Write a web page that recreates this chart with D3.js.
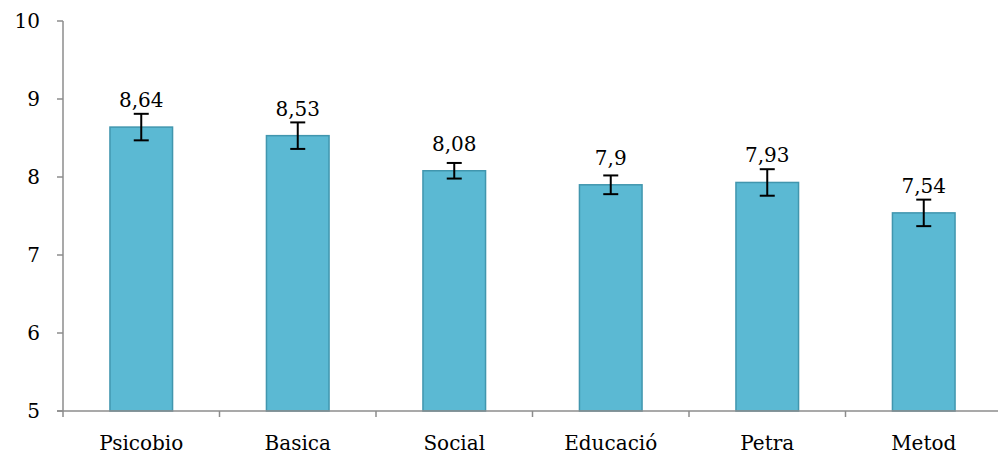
<!DOCTYPE html>
<html><head><meta charset="utf-8">
<script src="https://cdn.jsdelivr.net/npm/d3@7"></script>
<style>body{margin:0;background:#fff}svg{display:block}</style>
</head><body>
<script>
const categories = ["Psicobio","Basica","Social","Educació","Petra","Metod"];
const values = [8.64,8.53,8.08,7.9,7.93,7.54];
const errors = [0.17,0.17,0.1,0.12,0.17,0.17];
const yTicks = [5,6,7,8,9,10];

const W=998,H=458;
const svg=d3.select("body").append("svg").attr("width",W).attr("height",H);
const x0=63, step=156.5;
const x=d3.scaleBand().domain(categories).range([x0,x0+step*categories.length]).paddingInner(0.6).paddingOuter(0.3);
const y=d3.scaleLinear().domain([5,10]).range([411,21]);
const font="'DejaVu Serif', serif";
const axisColor="#8c8c8c";

// y axis
svg.append("line").attr("x1",x0).attr("x2",x0).attr("y1",y(10)).attr("y2",y(5)).attr("stroke",axisColor).attr("stroke-width",1.5);
svg.selectAll(".yt").data(yTicks).enter().append("line")
  .attr("x1",x0-6).attr("x2",x0).attr("y1",d=>y(d)).attr("y2",d=>y(d)).attr("stroke",axisColor).attr("stroke-width",1.5);
svg.selectAll(".yl").data(yTicks).enter().append("text")
  .attr("x",40).attr("y",d=>y(d)).attr("dy","0.36em").attr("text-anchor","end")
  .attr("font-family",font).attr("font-size",20).attr("fill","#000").text(d=>d);

// bars
svg.selectAll(".bar").data(values).enter().append("rect")
  .attr("x",(d,i)=>x(categories[i])).attr("width",x.bandwidth())
  .attr("y",d=>y(d)).attr("height",d=>y(5)-y(d))
  .attr("fill","#5bb9d3").attr("stroke","#4196ae").attr("stroke-width",1.5);

// x axis
svg.append("line").attr("x1",x0-6).attr("x2",x0+step*categories.length).attr("y1",y(5)).attr("y2",y(5)).attr("stroke",axisColor).attr("stroke-width",1.5);
const bounds=d3.range(categories.length+1).map(i=>x0+i*step);
svg.selectAll(".xt").data(bounds).enter().append("line")
  .attr("x1",d=>d).attr("x2",d=>d).attr("y1",y(5)).attr("y2",y(5)+6).attr("stroke",axisColor).attr("stroke-width",1.5);
svg.selectAll(".xl").data(categories).enter().append("text")
  .attr("x",d=>x(d)+x.bandwidth()/2).attr("y",450).attr("text-anchor","middle")
  .attr("font-family",font).attr("font-size",20).attr("fill","#000").text(d=>d);

// error bars
const eb=svg.selectAll(".eb").data(values).enter().append("g");
eb.append("line").attr("x1",(d,i)=>x(categories[i])+x.bandwidth()/2).attr("x2",(d,i)=>x(categories[i])+x.bandwidth()/2)
  .attr("y1",(d,i)=>y(d+errors[i])).attr("y2",(d,i)=>y(d-errors[i])).attr("stroke","#000").attr("stroke-width",2);
[1,-1].forEach(s=>{
  eb.append("line").attr("x1",(d,i)=>x(categories[i])+x.bandwidth()/2-7.5).attr("x2",(d,i)=>x(categories[i])+x.bandwidth()/2+7.5)
    .attr("y1",(d,i)=>y(d+s*errors[i])).attr("y2",(d,i)=>y(d+s*errors[i])).attr("stroke","#000").attr("stroke-width",2);
});

// value labels
svg.selectAll(".vl").data(values).enter().append("text")
  .attr("x",(d,i)=>x(categories[i])+x.bandwidth()/2).attr("y",d=>y(d)-20).attr("text-anchor","middle")
  .attr("font-family",font).attr("font-size",20).attr("fill","#000").text(d=>String(d).replace(".",","));
</script>
</body></html>
